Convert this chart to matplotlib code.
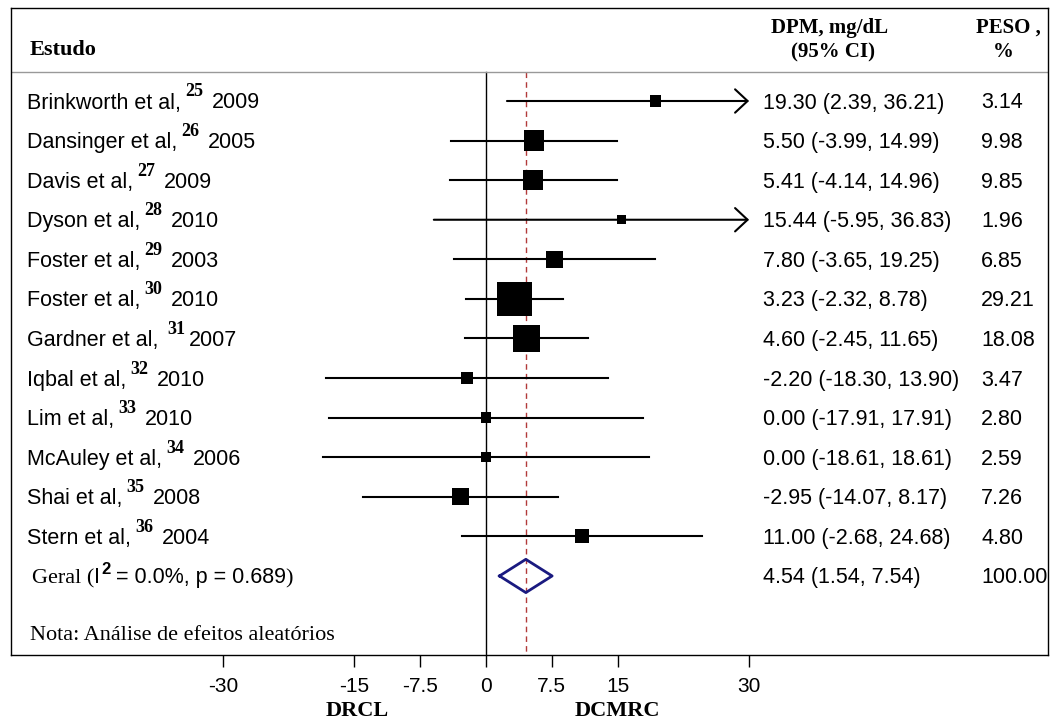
import numpy as np
import matplotlib.pyplot as plt

# dados do forest plot
estudos = ["Brinkworth et al,", "Dansinger et al,", "Davis et al,", "Dyson et al,",
           "Foster et al,", "Foster et al,", "Gardner et al,", "Iqbal et al,",
           "Lim et al,", "McAuley et al,", "Shai et al,", "Stern et al,"]
refs = ["25", "26", "27", "28", "29", "30", "31", "32", "33", "34", "35", "36"]
anos = ["2009", "2005", "2009", "2010", "2003", "2010", "2007", "2010",
        "2010", "2006", "2008", "2004"]
dpm = [19.30, 5.50, 5.41, 15.44, 7.80, 3.23, 4.60, -2.20, 0.00, 0.00, -2.95, 11.00]
ic_inf = [2.39, -3.99, -4.14, -5.95, -3.65, -2.32, -2.45, -18.30, -17.91, -18.61, -14.07, -2.68]
ic_sup = [36.21, 14.99, 14.96, 36.83, 19.25, 8.78, 11.65, 13.90, 17.91, 18.61, 8.17, 24.68]
peso = [3.14, 9.98, 9.85, 1.96, 6.85, 29.21, 18.08, 3.47, 2.80, 2.59, 7.26, 4.80]
geral_dpm, geral_inf, geral_sup, geral_peso = 4.54, 1.54, 7.54, 100.00
ticks = [-30, -15, -7.5, 0, 7.5, 15, 30]
tick_labels = ["-30", "-15", "-7.5", "0", "7.5", "15", "30"]

W, H = 1055, 720
SANS = "Liberation Sans"
SERIF = "Liberation Serif"
plt.rcParams["font.family"] = SANS

fig = plt.figure(figsize=(W / 100, H / 100), dpi=100)
ax = fig.add_axes([11 / W, 1 - 655 / H, (1048 - 11) / W, (655 - 8) / H])

px_unit = 8.77   # pixels por unidade
x0 = 486         # pixel do zero
ax.set_xlim((11 - x0) / px_unit, (1048 - x0) / px_unit)
row0, row_h = 101, 39.58
y_bot = (655 - row0) / row_h
ax.set_ylim(y_bot, (8 - row0) / row_h)
y_hdr = (72 - row0) / row_h

n = len(estudos)
rows = np.arange(n)
x_max = 30

# linhas de referencia
ax.axhline(y_hdr, color="#999999", lw=1)
ax.plot([0, 0], [y_hdr, y_bot], color="k", lw=1, zorder=1)
ax.plot([geral_dpm, geral_dpm], [y_hdr, y_bot], color="#b23a3a", lw=1,
        ls=(0, (4, 3)), zorder=1)

# intervalos
for i in range(n):
    if ic_sup[i] > x_max:
        ax.annotate("", xy=(x_max, i), xytext=(ic_inf[i], i),
                    arrowprops=dict(arrowstyle="->,head_length=0.45,head_width=0.42",
                                    lw=1.5, color="k", shrinkA=0, shrinkB=0,
                                    mutation_scale=20))
    else:
        ax.plot([ic_inf[i], ic_sup[i]], [i, i], color="k", lw=1.5, zorder=2)

lado = 6.4 * np.sqrt(peso) * 0.72
ax.scatter(dpm, rows, marker="s", s=lado ** 2, c="k", linewidths=0, zorder=3)

# diamante
yg = n
hd = 0.42
ax.plot([geral_inf, geral_dpm, geral_sup, geral_dpm, geral_inf],
        [yg, yg - hd, yg, yg + hd, yg], color="#1a1a80", lw=2, zorder=4)

ax.set_xticks(ticks)
ax.set_xticklabels(tick_labels)
ax.tick_params(axis="x", direction="out", length=8.6, width=1, pad=7, labelsize=15)
ax.set_yticks([])
for s in ax.spines.values():
    s.set_linewidth(1)

renderer = fig.canvas.get_renderer()


def linha_texto(x, y, partes):
    for txt, kw, gap, up in partes:
        x += gap
        t = fig.text(x / W, 1 - (y - up) / H, txt, va="baseline", ha="left", **kw)
        x += t.get_window_extent(renderer).width


sans = dict(family=SANS, fontsize=15.5)
sup = dict(family=SERIF, fontsize=13, fontweight="bold")
serif = dict(family=SERIF, fontsize=16)
bold_serif = dict(family=SERIF, fontsize=16, fontweight="bold")

for i in range(n):
    yb = row0 + i * row_h + 7.5
    g1 = 9 if i == 6 else 4
    g2 = 3 if i == 6 else 9
    linha_texto(27, yb, [(estudos[i], sans, 0, 0), (refs[i], sup, g1, 12),
                         (anos[i], sans, g2, 0)])
    fig.text(763 / W, 1 - yb / H, f"{dpm[i]:.2f} ({ic_inf[i]:.2f}, {ic_sup[i]:.2f})",
             va="baseline", **sans)
    fig.text(981 / W, 1 - yb / H, f"{peso[i]:.2f}", va="baseline", **sans)

yb = row0 + n * row_h + 7.5
linha_texto(32, yb, [("Geral (", serif, 0, 0), ("I", sans, 0, 0),
                     ("2", dict(family=SANS, fontsize=12, fontweight="bold"), 1, 9),
                     ("= 0.0%, p = 0.689", sans, 5, 0), (")", serif, 0, 0)])
fig.text(763 / W, 1 - yb / H, f"{geral_dpm:.2f} ({geral_inf:.2f}, {geral_sup:.2f})",
         va="baseline", **sans)
fig.text(981 / W, 1 - yb / H, f"{geral_peso:.2f}", va="baseline", **sans)

# cabecalho e notas
fig.text(30 / W, 1 - 55 / H, "Estudo", va="baseline", **bold_serif)
fig.text(830 / W, 1 - 33 / H, "DPM, mg/dL", va="baseline", ha="center",
         family=SERIF, fontsize=15, fontweight="bold")
fig.text(833 / W, 1 - 57 / H, "(95% CI)", va="baseline", ha="center",
         family=SERIF, fontsize=15, fontweight="bold")
fig.text(1008 / W, 1 - 33 / H, "PESO ,", va="baseline", ha="center",
         family=SERIF, fontsize=15, fontweight="bold")
fig.text(1003 / W, 1 - 57 / H, "%", va="baseline", ha="center",
         family=SERIF, fontsize=15, fontweight="bold")
fig.text(30 / W, 1 - 640 / H, "Nota: Análise de efeitos aleatórios", va="baseline", **serif)
fig.text(357 / W, 1 - 716 / H, "DRCL", va="baseline", ha="center", **bold_serif)
fig.text(617 / W, 1 - 716 / H, "DCMRC", va="baseline", ha="center", **bold_serif)

fig.savefig("out.png", dpi=100)
